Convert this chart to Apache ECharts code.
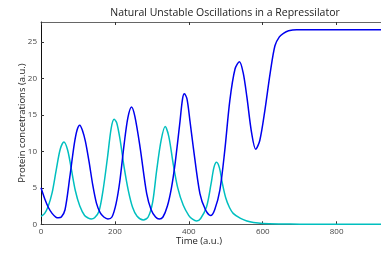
<!DOCTYPE html>
<html><head><meta charset="utf-8">
<script src="https://cdn.jsdelivr.net/npm/echarts@6/dist/echarts.min.js"></script>
<style>html,body{margin:0;padding:0;background:#fff}#c{width:381px;height:255px}</style>
</head><body><div id="c"></div>
<script>
var titleText = "Natural Unstable Oscillations in a Repressilator";
var xLabel = "Time (a.u.)";
var yLabel = "Protein concetrations (a.u.)";
var blueT = [0,10,20,30,40,47,55,65,78,90,98,105,112,120,130,140,150,160,170,181,192,203,213,225,235,245,254,268,286,298,310,320,330,342,353,363,375,383,388,395,403,412,430,445,459,470,484,497,511,525,537,547,557,570,581,592,606,620,633,645,656,670,692,720,920];
var blueV = [5.0,3.5,2.3,1.5,1.0,0.9,1.0,2.0,6.5,11.0,13.0,13.6,12.9,11.4,8.6,5.4,2.9,1.6,1.0,0.73,1.0,2.8,5.8,11.0,14.6,16.1,14.8,10.6,4.2,2.0,1.0,0.73,1.0,2.5,5.0,8.4,13.6,17.2,17.9,17.2,14.2,10.6,4.2,2.0,1.2,2.0,4.7,10.0,17.0,21.3,22.3,20.8,17.5,12.5,10.3,11.5,15.7,20.7,24.5,25.7,26.2,26.55,26.7,26.7,26.7];
var cyanT = [0,10,19,30,41,52,62,72,82,93,105,118,128,136,145,157,168,180,190,198,205,214,225,236,248,260,277,290,302,313,325,336,346,358,370,385,400,410,421,432,448,460,468,475,483,490,500,510,520,540,557,575,600,650,700,920];
var cyanV = [1.1,1.5,2.4,4.3,7.4,10.3,11.3,10.2,7.6,4.6,2.5,1.2,0.85,0.73,0.9,1.8,4.7,9.2,13.2,14.4,13.9,11.6,7.8,4.7,2.3,1.1,0.6,1.0,3.0,7.4,11.5,13.4,12.0,8.2,5.0,2.6,1.2,0.7,0.45,0.8,2.4,5.5,7.8,8.5,7.7,5.8,3.6,2.3,1.5,0.8,0.45,0.25,0.12,0.05,0.02,0];
var xTicks = [0,200,400,600,800];
var yTicks = [0,5,10,15,20,25];

function pairs(t, v){ return t.map(function(x,i){ return [x, v[i]]; }); }
var font = "'Open Sans', 'DejaVu Sans', sans-serif";
var chart = echarts.init(document.getElementById('c'), null, {renderer:'canvas'});
var xCommon = {type:'value', min:0, max:920, interval:200, splitLine:{show:false}};
chart.setOption({
  animation:false,
  backgroundColor:'#fff',
  title:{text:titleText, left:220, textAlign:'center', top:3, textStyle:{fontFamily:font, fontSize:10.5, fontWeight:'normal', color:'#222'}},
  grid:{left:41, top:22, right:0, bottom:30.7, containLabel:false},
  xAxis:[Object.assign({}, xCommon, {
    position:'bottom',
    axisLine:{lineStyle:{color:'#555', width:1}},
    axisTick:{inside:true, length:3, lineStyle:{color:'#333'}},
    axisLabel:{fontFamily:font, fontSize:8, color:'#444', margin:3, showMaxLabel:false,
      formatter:function(v){ return xTicks.indexOf(v) >= 0 ? String(v) : ''; }}
  }), Object.assign({}, xCommon, {
    position:'top',
    axisLine:{lineStyle:{color:'#666', width:1}},
    axisTick:{inside:true, length:3, lineStyle:{color:'#333'}},
    axisLabel:{show:false}
  })],
  yAxis:{
    type:'value', min:0, max:27.75, interval:5,
    axisLine:{show:true, lineStyle:{color:'#111', width:1}},
    axisTick:{show:true, inside:true, length:3, lineStyle:{color:'#333'}},
    axisLabel:{fontFamily:font, fontSize:8, color:'#444', margin:4, showMaxLabel:false,
      formatter:function(v){ return yTicks.indexOf(v) >= 0 ? String(v) : ''; }},
    splitLine:{show:false}
  },
  graphic:[
    {type:'text', left:176, top:236, style:{text:xLabel, fontFamily:font, fontSize:9.5, fill:'#222'}},
    {type:'text', x:22, y:123, rotation:Math.PI/2, style:{text:yLabel, fontFamily:font, fontSize:9.5, fill:'#222', textAlign:'center', textVerticalAlign:'middle'}}
  ],
  series:[
    {type:'line', data:pairs(cyanT, cyanV), showSymbol:false, smooth:0.3, lineStyle:{color:'#00bfbf', width:1.5}, itemStyle:{color:'#00bfbf'}, z:2},
    {type:'line', data:pairs(blueT, blueV), showSymbol:false, smooth:0.3, lineStyle:{color:'#0000ee', width:1.5}, itemStyle:{color:'#0000ee'}, z:3}
  ]
});
</script></body></html>
